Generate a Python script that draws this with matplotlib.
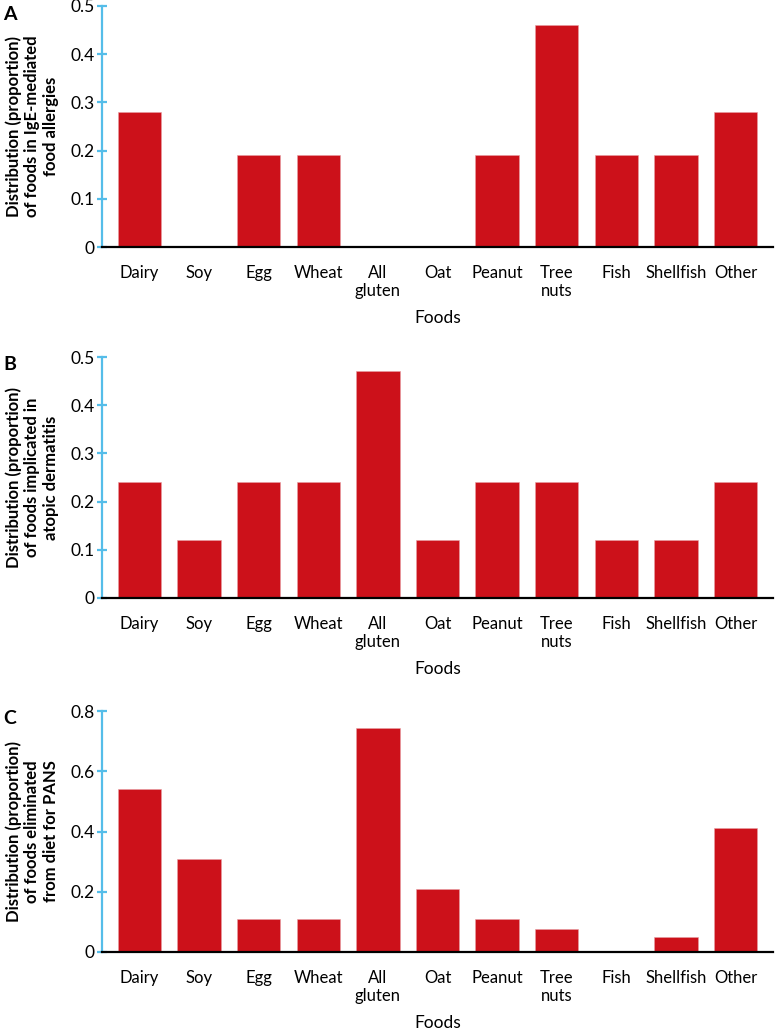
import numpy as np
import matplotlib
matplotlib.use('Agg')
from matplotlib import pyplot as plt

plt.rcParams['font.family'] = ['Lato', 'DejaVu Sans']

foods = ['Dairy', 'Soy', 'Egg', 'Wheat', 'All\ngluten', 'Oat', 'Peanut',
         'Tree\nnuts', 'Fish', 'Shellfish', 'Other']

ige_allergies = [0.28, 0, 0.19, 0.19, 0, 0, 0.19, 0.46, 0.19, 0.19, 0.28]
atopic_dermatitis = [0.24, 0.12, 0.24, 0.24, 0.47, 0.12, 0.24, 0.24, 0.12,
                     0.12, 0.24]
pans_eliminated = [0.54, 0.31, 0.11, 0.11, 0.745, 0.21, 0.11, 0.077, 0, 0.05,
                   0.41]

panels = [
    ('A', ige_allergies,
     'Distribution (proportion)\nof foods in IgE-mediated\nfood allergies',
     [0, 0.1, 0.2, 0.3, 0.4, 0.5], ['0', '0.1', '0.2', '0.3', '0.4', '0.5']),
    ('B', atopic_dermatitis,
     'Distribution (proportion)\nof foods implicated in\natopic dermatitis',
     [0, 0.1, 0.2, 0.3, 0.4, 0.5], ['0', '0.1', '0.2', '0.3', '0.4', '0.5']),
    ('C', pans_eliminated,
     'Distribution (proportion)\nof foods eliminated\nfrom diet for PANS',
     [0, 0.2, 0.4, 0.6, 0.8], ['0', '0.2', '0.4', '0.6', '0.8']),
]

BAR_RED = '#cc111a'
AXIS_BLUE = '#55bde9'
W, H = 775, 1032

fig = plt.figure(figsize=(W / 100, H / 100), dpi=100)

# pixel rows of the top / bottom of each axes
rows = [(6, 247), (357, 598), (711, 952)]

for (letter, values, ylabel, ticks, ticklabels), (top, bottom) in zip(panels, rows):
    ax = fig.add_axes([102 / W, 1 - bottom / H, (773 - 102) / W, (bottom - top) / H])
    x = np.arange(len(foods))
    ax.bar(x, values, width=0.73, color=BAR_RED, edgecolor='#e8a0a4',
           linewidth=0.4)
    ax.set_xlim(-0.63, len(foods) - 1 + 0.63)
    ax.set_ylim(0, ticks[-1])

    for side in ['top', 'right']:
        ax.spines[side].set_visible(False)
    ax.spines['left'].set_color(AXIS_BLUE)
    ax.spines['left'].set_linewidth(1.6)
    ax.spines['bottom'].set_color('black')
    ax.spines['bottom'].set_linewidth(1.6)
    ax.spines['bottom'].set_zorder(3)

    ax.set_yticks(ticks)
    ax.set_yticklabels(ticklabels)
    ax.tick_params(axis='y', direction='inout', length=7, width=1.6,
                   color=AXIS_BLUE, labelsize=12.5, pad=2)
    ax.set_xticks(x)
    ax.set_xticklabels(foods, fontsize=12, linespacing=1.15, va='top')
    ax.tick_params(axis='x', length=0, pad=13)
    ax.set_xlabel('Foods', fontsize=12.5, labelpad=8)

    ax.set_ylabel(ylabel, fontsize=12, fontweight='bold', linespacing=1.2)
    ax.yaxis.set_label_coords(-0.064, 0.5)

    fig.text(10 / W, 1 - (top + 8) / H, letter, fontsize=14,
             fontweight='bold', ha='center', va='center')

fig.savefig('out.png', dpi=100)
